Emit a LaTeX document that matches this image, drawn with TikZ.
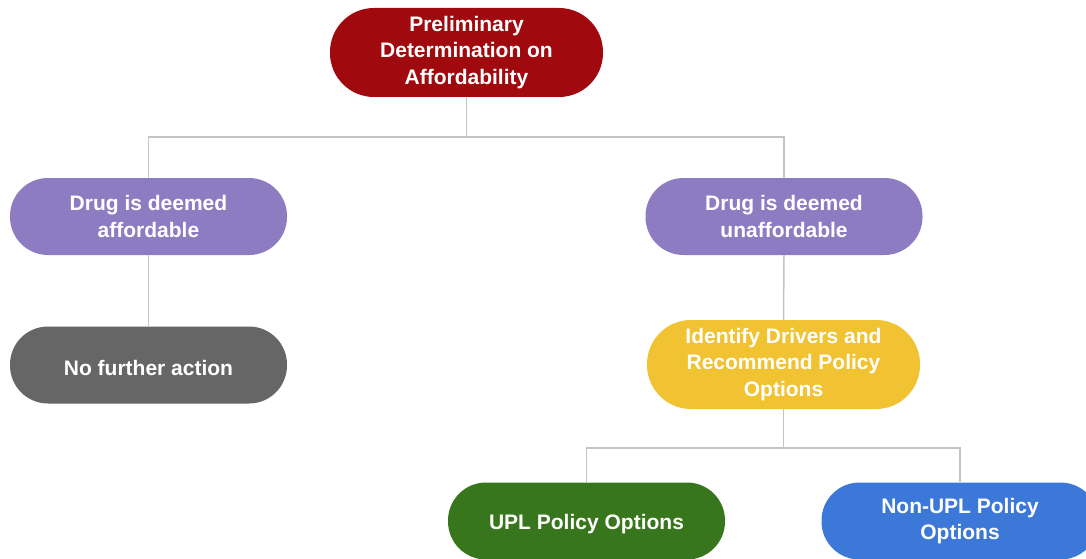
\documentclass[tikz,border=0pt]{standalone}
\usepackage{fontspec}
\setmainfont{Liberation Sans}
\definecolor{cred}{HTML}{A00A0F}
\definecolor{cpurple}{HTML}{8E7CC3}
\definecolor{cgray}{HTML}{666666}
\definecolor{cyellow}{HTML}{F1C232}
\definecolor{cgreen}{HTML}{38761D}
\definecolor{cblue}{HTML}{3C78D8}
\definecolor{cline}{HTML}{C4C4C4}
\tikzset{
  pill/.style={draw=none, fill=#1, text=white, align=center, inner sep=0pt,
    font=\fontsize{21}{26.5}\selectfont\bfseries,
    execute at begin node={\rule{0pt}{20.5pt}}},
  pillS/.style={pill=#1, minimum width=277pt, minimum height=77pt, rounded corners=38pt},
  pillL/.style={pill=#1, minimum width=273pt, minimum height=89pt, rounded corners=44pt},
  conn/.style={draw=cline, line width=1.5pt}
}
\begin{document}
\begin{tikzpicture}[x=1pt,y=-1pt]
\useasboundingbox (0,0) rectangle (1086,559);
\clip (0,0) rectangle (1086,559);
\node[pillL=cred] (top) at (466.5,52.5) {Preliminary\\Determination on\\Affordability};
\node[pillS=cpurple] (lp) at (148.5,216.5) {Drug is deemed\\affordable};
\node[pillS=cpurple] (rp) at (784,216.5) {Drug is deemed\\unaffordable};
\node[pillS=cgray] (gr) at (148.5,365) {No further action};
\node[pillL=cyellow] (ye) at (783.5,364.5) {Identify Drivers and\\Recommend Policy\\Options};
\node[pillS=cgreen] (gn) at (586.5,521) {UPL Policy Options};
\node[pillS=cblue] (bl) at (960,521) {Non-UPL Policy\\Options};
\coordinate (j1) at (466.5,137);
\coordinate (j2) at (783.5,448);
\draw[conn] (top.south) -- (j1);
\draw[conn] (j1) -| (lp.north);
\draw[conn] (j1) -| (rp.north);
\draw[conn] (lp.south) -- (gr.north);
\draw[conn] (rp.south) -- (ye.north);
\draw[conn] (ye.south) -- (j2);
\draw[conn] (j2) -| (gn.north);
\draw[conn] (j2) -| (bl.north);
\end{tikzpicture}
\end{document}
